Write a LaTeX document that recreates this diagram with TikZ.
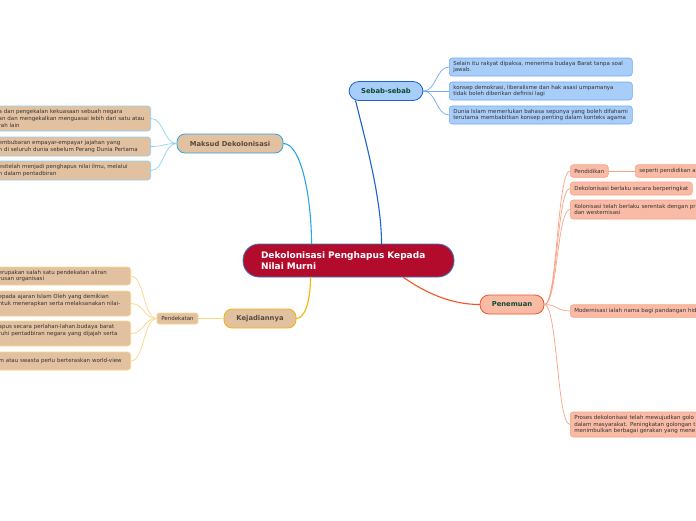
\documentclass[tikz,border=0pt]{standalone}
\usepackage{fontspec}
\setmainfont{DejaVu Sans}
\usepackage{xcolor}
\usetikzlibrary{calc}

\definecolor{rootRed}{HTML}{B30B2C}
\definecolor{rootEdge}{HTML}{3A7BC8}
\definecolor{greenTxt}{HTML}{0E4B2C}
\definecolor{brownTxt}{HTML}{5A4A3A}
\definecolor{leafTxt}{HTML}{333333}
\definecolor{blueFill}{HTML}{A8CDF9}
\definecolor{blueEdge}{HTML}{1F62D2}
\definecolor{blueLeaf}{HTML}{72ACF0}
\definecolor{tanFill}{HTML}{E2C1A0}
\definecolor{cyanEdge}{HTML}{2AA6E2}
\definecolor{cyanLeaf}{HTML}{8ED2F2}
\definecolor{goldEdge}{HTML}{F6B300}
\definecolor{goldLeaf}{HTML}{FCD687}
\definecolor{salmonFill}{HTML}{F9BBA5}
\definecolor{redEdge}{HTML}{F05526}
\definecolor{salmonLeaf}{HTML}{F9A385}

\begin{document}
\begin{tikzpicture}[
  x=1pt, y=-1pt,
  line cap=round,
  lnS/.style={draw=blueEdge, line width=1.1pt},
  lnM/.style={draw=cyanEdge, line width=1.1pt},
  lnK/.style={draw=goldEdge, line width=1.1pt},
  lnP/.style={draw=redEdge, line width=1.1pt},
  lnSl/.style={draw=blueLeaf, line width=0.7pt},
  lnMl/.style={draw=cyanLeaf, line width=0.7pt},
  lnKl/.style={draw=goldLeaf, line width=0.7pt},
  lnPl/.style={draw=salmonLeaf, line width=0.7pt},
  root/.style={rectangle, rounded corners=16pt, minimum height=33pt, text width=175pt,
    inner xsep=18pt, align=left, draw=rootEdge, line width=0.8pt, fill=rootRed,
    text=white, font=\bfseries\fontsize{9}{10.8}\selectfont},
  topic/.style={rectangle, rounded corners=8pt, minimum height=19pt, inner xsep=4pt,
    line width=0.8pt, font=\bfseries\fontsize{6.8}{8}\selectfont},
  sebab/.style={topic, minimum width=74pt, rounded corners=10pt, draw=blueEdge, fill=blueFill, text=greenTxt},
  maksud/.style={topic, minimum width=106pt, draw=cyanEdge, fill=tanFill, text=brownTxt},
  kejadian/.style={topic, minimum width=72pt, draw=goldEdge, fill=tanFill, text=brownTxt},
  penemuan/.style={topic, minimum width=64pt, rounded corners=9pt, draw=redEdge, fill=salmonFill, text=greenTxt},
  leaf/.style={rectangle, rounded corners=3pt, inner xsep=4pt, inner ysep=1.5pt, align=left,
    line width=0.6pt, text=leafTxt, font=\fontsize{5.5}{6.8}\selectfont},
  sebabL/.style={leaf, anchor=west, text width=175pt, minimum height=18pt, draw=blueLeaf, fill=blueFill},
  maksudL/.style={leaf, anchor=east, text width=148pt, draw=cyanLeaf, fill=tanFill},
  kejadianL/.style={leaf, anchor=east, text width=128pt, draw=goldLeaf, fill=tanFill},
  penemuanL/.style={leaf, anchor=west, minimum height=12.5pt, draw=salmonLeaf, fill=salmonFill},
]
  \useasboundingbox (0,0) rectangle (696,520);
  \fill[white] (0,0) rectangle (696,520);
  \clip (0,0) rectangle (696,520);

  % Root
  \node[root] (root) at (348.5,260.5) {Dekolonisasi Penghapus Kepada\\Nilai Murni};
  % Main branches
  \node[sebab] (sebab) at (386,91) {Sebab-sebab};
  \node[maksud] (maksud) at (230,143.5) {Maksud Dekolonisasi};
  \node[kejadian] (kejadian) at (260,318.5) {Kejadiannya};
  \node[penemuan] (penemuan) at (512,304.5) {Penemuan};
  % Sebab-sebab leaves
  \node[sebabL] (sebab1) at (449,67) {Selain itu rakyat dipaksa, menerima budaya Barat tanpa soal\\jawab.};
  \node[sebabL] (sebab2) at (449,91) {konsep demokrasi, liberalisme dan hak asasi umpamanya\\tidak boleh diberikan definisi lagi};
  \node[sebabL] (sebab3) at (449,115) {Dunia Islam memerlukan bahasa sepunya yang boleh difahami\\terutama membabitkan konsep penting dalam konteks agama};
  % Maksud leaves (cut by the left edge)
  \node[maksudL, minimum height=25pt] (maksud1) at (151,118.5)
    {a dan pengekalan kekuasaan sebuah negara\\an dan mengekalkan menguasai lebih dari satu atau\\rah lain};
  \node[maksudL, minimum height=19pt] (maksud2) at (151,146.5)
    {embubaran empayar-empayar jajahan yang\\n di seluruh dunia sebelum Perang Dunia Pertama};
  \node[maksudL, minimum height=19pt] (maksud3) at (151,170.5)
    {esitelah menjadi penghapus nilai ilmu, melalui\\n dalam pentadbiran};
  % Kejadiannya -> Pendekatan
  \node[leaf, minimum width=41pt, minimum height=11pt, rounded corners=2pt, draw=goldLeaf, fill=tanFill]
    (pendekatan) at (177.5,318.5) {Pendekatan};
  \node[kejadianL, minimum height=18pt] (pend1) at (131,276)
    {erupakan salah satu pendekatan aliran\\rusan organisasi};
  \node[kejadianL, minimum height=25pt] (pend2) at (131,303.5)
    {epada ajaran Islam Oleh yang demikian\\ntuk menerapkan serta melaksanakan nilai-\\~};
  \node[kejadianL, minimum height=25pt] (pend3) at (131,333.5)
    {apus secara perlahan-lahan.budaya barat\\ruhi pentadbiran negara yang dijajah serta\\~};
  \node[kejadianL, minimum height=18pt] (pend4) at (131,361)
    {m atau swasta perlu berteraskan world-view};
  % Penemuan leaves (cut by the right edge)
  \node[penemuanL] (pendidikan) at (570,171) {Pendidikan};
  \node[penemuanL, text width=150pt] (seperti) at (635,171) {seperti pendidikan a};
  \node[penemuanL, minimum height=13pt] (berperingkat) at (570,188.5) {Dekolonisasi berlaku secara berperingkat};
  \node[penemuanL, text width=150pt, minimum height=19pt] (serentak) at (570,209.5)
    {Kolonisasi telah berlaku serentak dengan pr\\dan westernisasi};
  \node[penemuanL, text width=150pt] (modernisasi) at (570,311) {Modernisasi ialah nama bagi pandangan hid};
  \node[penemuanL, text width=150pt, minimum height=25pt] (proses) at (570,424.5)
    {Proses dekolonisasi telah mewujudkan golo\\dalam masyarakat. Peningkatan golongan t\\menimbulkan berbagai gerakan yang mene};

  % Connectors: root to branches
  \draw[lnS] ($(root.north)+(33,0)$) .. controls +(0,-45) and +(10,40) .. ($(sebab.south west)+(7,0)$);
  \draw[lnM] ($(root.north)+(-37,0)$) .. controls +(0,-45) and +(18,0) .. (maksud.east);
  \draw[lnK] ($(root.south)+(-38,0)$) .. controls +(0,25) and +(8,0) .. (kejadian.east);
  \draw[lnP] ($(root.south)+(55,0)$) .. controls +(20,14) and +(-30,0) .. (penemuan.west);
  % Connectors: Sebab-sebab
  \draw[lnSl] (sebab.east) .. controls +(13,0) and +(-13,0) .. (sebab1.west);
  \draw[lnSl] (sebab.east) .. controls +(13,0) and +(-13,0) .. (sebab2.west);
  \draw[lnSl] (sebab.east) .. controls +(13,0) and +(-13,0) .. (sebab3.west);
  % Connectors: Maksud
  \draw[lnMl] (maksud.west) .. controls +(-13,0) and +(13,0) .. (maksud1.east);
  \draw[lnMl] (maksud.west) .. controls +(-13,0) and +(13,0) .. (maksud2.east);
  \draw[lnMl] (maksud.west) .. controls +(-13,0) and +(13,0) .. (maksud3.east);
  % Connectors: Kejadiannya
  \draw[lnKl] (kejadian.west) -- (pendekatan.east);
  \draw[lnKl] (pendekatan.west) .. controls +(-13,0) and +(13,0) .. (pend1.east);
  \draw[lnKl] (pendekatan.west) .. controls +(-13,0) and +(13,0) .. (pend2.east);
  \draw[lnKl] (pendekatan.west) .. controls +(-13,0) and +(13,0) .. (pend3.east);
  \draw[lnKl] (pendekatan.west) .. controls +(-13,0) and +(13,0) .. (pend4.east);
  % Connectors: Penemuan
  \draw[lnPl] (penemuan.east) .. controls +(13,0) and +(-13,0) .. (pendidikan.west);
  \draw[lnPl] (pendidikan.east) -- (seperti.west);
  \draw[lnPl] (penemuan.east) .. controls +(13,0) and +(-13,0) .. (berperingkat.west);
  \draw[lnPl] (penemuan.east) .. controls +(13,0) and +(-13,0) .. (serentak.west);
  \draw[lnPl] (penemuan.east) .. controls +(13,0) and +(-13,0) .. (modernisasi.west);
  \draw[lnPl] (penemuan.east) .. controls +(13,0) and +(-13,0) .. (proses.west);
\end{tikzpicture}
\end{document}
